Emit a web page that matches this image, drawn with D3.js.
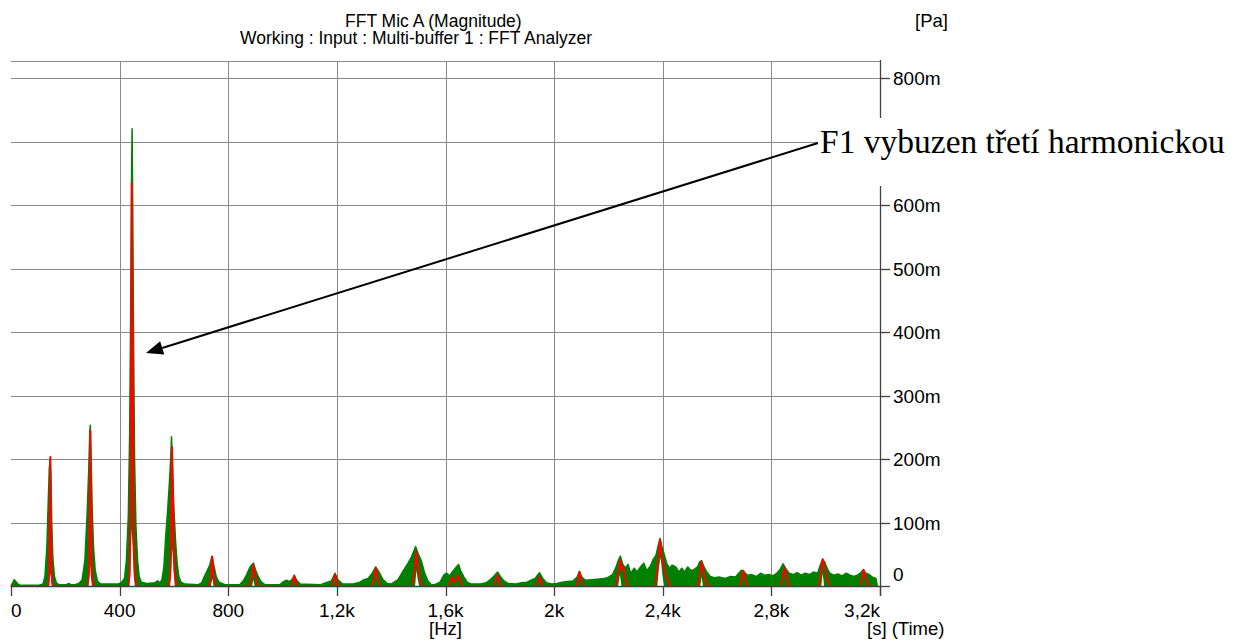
<!DOCTYPE html>
<html>
<head>
<meta charset="utf-8">
<script src="https://cdn.jsdelivr.net/npm/d3@7"></script>
<style>
  body { margin: 0; background: #fff; }
  svg { display: block; }
  text { font-family: "Liberation Sans", Arial, sans-serif; fill: #000; }
</style>
</head>
<body>
<svg id="chart" width="1241" height="641"></svg>
<script>
// frequency axis (Hz)
var xTicks = [0, 400, 800, 1200, 1600, 2000, 2400, 2800, 3200];
var xTickLabels = ["0", "400", "800", "1,2k", "1,6k", "2k", "2,4k", "2,8k", "3,2k"];

// magnitude axis (mPa); the 700m label sits under the annotation box
var yTicks = [0, 100, 200, 300, 400, 500, 600, 700, 800];
var yTickLabels = ["0", "100m", "200m", "300m", "400m", "500m", "600m", "", "800m"];

// upper edge of the green (overlaid traces) band, [Hz, mPa]
var greenTop = [
  [0,0],[5,4],[12,10],[20,6],[28,2],[40,1],[100,1],[118,3],[125,15],[132,60],[137,130],[141,185],
  [144,200],[147,170],[150,100],[154,45],[160,15],[168,4],[178,2],[205,2],[212,4],[220,2],[235,2],
  [250,4],[262,10],[272,40],[280,110],[286,180],[290,240],[292,253],[295,200],[299,120],[304,60],
  [310,25],[318,8],[330,3],[395,3],[408,6],[418,12],[425,40],[432,110],[437,240],[441,450],[444,650],
  [446,720],[448,600],[451,400],[455,200],[460,95],[466,40],[472,15],[480,6],[500,4],[530,5],[540,8],
  [548,5],[556,10],[563,30],[570,80],[577,120],[583,160],[588,200],[591,235],[595,180],[600,120],
  [606,70],[612,35],[618,15],[626,6],[640,3],[690,2],[702,5],[712,15],[722,24],[732,33],[740,47],
  [748,30],[756,14],[766,6],[788,2],[842,2],[855,8],[868,18],[878,28],[886,33],[893,36],[900,26],
  [910,15],[922,6],[935,2],[990,2],[1000,6],[1015,9],[1025,7],[1035,10],[1043,17],[1052,9],[1065,3],
  [1140,2],[1160,5],[1180,8],[1193,20],[1205,9],[1222,3],[1260,3],[1285,6],[1300,10],[1315,12],
  [1330,20],[1343,30],[1355,22],[1370,10],[1385,4],[1400,3],[1425,10],[1445,24],[1462,36],[1475,46],
  [1490,62],[1500,50],[1510,41],[1522,22],[1535,8],[1548,2],[1560,2],[1580,6],[1595,18],[1605,20],
  [1615,16],[1625,22],[1640,30],[1648,34],[1656,24],[1668,14],[1680,6],[1695,3],[1730,3],[1750,5],
  [1765,10],[1780,16],[1792,22],[1802,15],[1815,8],[1830,4],[1860,3],[1880,5],[1900,6],[1915,9],
  [1930,12],[1946,21],[1958,12],[1972,5],[1990,3],[2010,4],[2030,6],[2050,7],[2070,8],[2085,14],
  [2093,23],[2102,14],[2115,9],[2140,10],[2165,11],[2185,12],[2200,14],[2215,18],[2228,30],[2238,42],
  [2244,47],[2252,35],[2262,28],[2272,34],[2282,20],[2295,28],[2305,22],[2318,30],[2330,36],[2342,24],
  [2355,32],[2365,42],[2375,48],[2384,65],[2390,75],[2397,62],[2405,50],[2415,35],[2425,28],[2435,33],
  [2448,30],[2460,22],[2470,28],[2480,22],[2492,30],[2505,24],[2515,26],[2528,30],[2536,38],[2543,40],
  [2552,30],[2562,22],[2575,15],[2590,13],[2610,14],[2630,12],[2650,15],[2668,14],[2680,20],[2690,25],
  [2700,22],[2712,17],[2728,18],[2745,15],[2760,20],[2775,17],[2790,18],[2805,16],[2820,20],[2832,26],
  [2843,35],[2852,28],[2865,20],[2880,18],[2895,21],[2910,17],[2925,20],[2940,18],[2955,22],[2970,20],
  [2982,35],[2989,42],[2996,38],[3005,28],[3015,20],[3030,17],[3045,19],[3060,16],[3075,20],[3090,17],
  [3105,15],[3120,18],[3132,22],[3139,26],[3148,20],[3160,18],[3172,14],[3185,12],[3190,0]
];

// lower edge of the green band (white gap under the peaks), [Hz, mPa]
var greenLow = [
  [0,0],[138,0],[142,8],[145,20],[148,8],[152,0],[284,0],[288,15],[291,35],[294,15],[298,0],
  [436,0],[440,40],[444,91],[448,60],[452,15],[456,0],[586,0],[590,25],[594,60],[598,30],[603,0],
  [736,0],[741,12],[746,0],[888,0],[892,10],[897,0],[1488,0],[1493,25],[1498,10],[1503,0],
  [2236,0],[2242,18],[2248,0],[2380,0],[2386,30],[2392,45],[2398,20],[2404,0],[2538,0],[2543,14],
  [2548,0],[2984,0],[2989,20],[2994,0],[3190,0]
];

// single highlighted trace, [Hz, mPa]
var redTrace = [
  [0,0],[130,0],[138,2],[141,30],[143,120],[145,203],[147,110],[149,30],[152,3],[158,0],
  [282,0],[287,20],[290,130],[292,245],[294,150],[297,40],[300,10],[304,0],
  [432,0],[437,20],[440,120],[443,400],[445,635],[447,450],[450,180],[453,60],[457,15],[462,2],[466,0],
  [580,0],[586,15],[590,90],[593,219],[596,150],[599,70],[603,20],[608,3],[612,0],
  [728,0],[735,8],[741,46],[746,20],[752,3],[757,0],
  [878,0],[885,10],[892,33],[897,22],[905,5],[910,0],
  [1032,0],[1038,6],[1043,16],[1049,6],[1055,0],
  [1183,0],[1188,8],[1193,18],[1199,7],[1206,0],
  [1330,0],[1337,12],[1343,28],[1350,14],[1358,0],
  [1478,0],[1486,25],[1492,54],[1498,35],[1505,12],[1512,0],
  [1610,0],[1618,8],[1625,14],[1632,6],[1640,10],[1647,17],[1654,8],[1662,0],
  [1778,0],[1786,10],[1791,17],[1797,8],[1805,0],
  [1934,0],[1941,8],[1946,14],[1952,6],[1960,0],
  [2082,0],[2088,10],[2093,22],[2099,10],[2106,0],
  [2228,0],[2236,20],[2243,41],[2250,25],[2256,30],[2262,12],[2270,0],
  [2372,0],[2380,25],[2386,55],[2390,73],[2395,50],[2400,40],[2406,28],[2412,15],[2420,8],[2428,0],
  [2530,0],[2537,20],[2543,38],[2550,22],[2558,8],[2566,0],
  [2685,0],[2691,14],[2697,24],[2703,12],[2710,0],
  [2836,0],[2843,18],[2850,28],[2856,14],[2864,0],
  [2975,0],[2983,25],[2989,42],[2995,30],[3002,18],[3010,5],[3016,0],
  [3128,0],[3134,15],[3139,25],[3145,18],[3152,6],[3160,0],[3190,0]
];

var svg = d3.select("#chart");

var plotLeft = 11, plotRight = 880, plotTop = 61, plotBottom = 586;

var x = d3.scaleLinear().domain([0, 3200]).range([plotLeft, plotRight]);
var y = d3.scaleLinear().domain([0, 800]).range([plotBottom, 78]);

// grid
var grid = svg.append("g").attr("stroke", "#8a8a8a").attr("stroke-width", 1);

grid.selectAll("line.v")
    .data(xTicks.slice(1, -1))
  .enter().append("line")
    .attr("x1", function(d) { return Math.round(x(d)) + 0.5; })
    .attr("x2", function(d) { return Math.round(x(d)) + 0.5; })
    .attr("y1", plotTop)
    .attr("y2", plotBottom);

grid.selectAll("line.h")
    .data(yTicks.slice(1))
  .enter().append("line")
    .attr("x1", plotLeft)
    .attr("x2", plotRight)
    .attr("y1", function(d) { return Math.round(y(d)) + 0.5; })
    .attr("y2", function(d) { return Math.round(y(d)) + 0.5; });

grid.append("line")
    .attr("x1", plotLeft).attr("x2", plotRight)
    .attr("y1", plotTop + 0.5).attr("y2", plotTop + 0.5);

// spectrum
var area = d3.area()
    .x(function(d) { return x(d[0]); })
    .y0(y(0))
    .y1(function(d) { return y(d[1]); });

var line = d3.line()
    .x(function(d) { return x(d[0]); })
    .y(function(d) { return y(d[1]); });

svg.append("path")
    .datum(greenTop)
    .attr("d", area)
    .attr("fill", "#008000")
    .attr("stroke", "#008000")
    .attr("stroke-width", 1.5)
    .attr("stroke-linejoin", "round");

svg.append("path")
    .datum(greenLow)
    .attr("d", area)
    .attr("fill", "#fff");

svg.append("path")
    .datum(redTrace)
    .attr("d", line)
    .attr("fill", "none")
    .attr("stroke", "#ff0000")
    .attr("stroke-width", 2)
    .attr("stroke-linejoin", "round");

// axes
var axis = svg.append("g").attr("stroke", "#404040").attr("stroke-width", 1.3);

axis.append("line")
    .attr("x1", plotLeft).attr("x2", plotRight)
    .attr("y1", plotBottom + 0.5).attr("y2", plotBottom + 0.5);

axis.append("line")
    .attr("x1", plotRight + 0.5).attr("x2", plotRight + 0.5)
    .attr("y1", 60).attr("y2", plotBottom + 10);

axis.selectAll("line.xt")
    .data(xTicks)
  .enter().append("line")
    .attr("x1", function(d) { return Math.round(x(d)) + 0.5; })
    .attr("x2", function(d) { return Math.round(x(d)) + 0.5; })
    .attr("y1", plotBottom)
    .attr("y2", plotBottom + 10);

axis.selectAll("line.yt")
    .data(yTicks)
  .enter().append("line")
    .attr("x1", plotRight)
    .attr("x2", plotRight + 10)
    .attr("y1", function(d) { return Math.round(y(d)) + 0.5; })
    .attr("y2", function(d) { return Math.round(y(d)) + 0.5; });

svg.selectAll("text.xl")
    .data(xTicks)
  .enter().append("text")
    .attr("x", function(d) { return x(d); })
    .attr("y", 617)
    .attr("font-size", 19)
    .attr("text-anchor", function(d, i) {
      return i === 0 ? "start" : i === xTicks.length - 1 ? "end" : "middle";
    })
    .text(function(d, i) { return xTickLabels[i]; });

svg.selectAll("text.yl")
    .data(yTicks.filter(function(d, i) { return yTickLabels[i]; }))
  .enter().append("text")
    .attr("x", 893)
    .attr("y", function(d) { return d === 0 ? 581 : y(d) + 7; })
    .attr("font-size", 19)
    .text(function(d) { return yTickLabels[yTicks.indexOf(d)]; });

// titles and units
svg.append("text").attr("x", 345).attr("y", 27).attr("font-size", 17.5)
    .text("FFT Mic A (Magnitude)");
svg.append("text").attr("x", 240).attr("y", 44).attr("font-size", 17.5)
    .text("Working : Input : Multi-buffer 1 : FFT Analyzer");
svg.append("text").attr("x", 915).attr("y", 27).attr("font-size", 18.5)
    .text("[Pa]");
svg.append("text").attr("x", 429).attr("y", 635).attr("font-size", 18.5)
    .text("[Hz]");
svg.append("text").attr("x", 867).attr("y", 635).attr("font-size", 18.5)
    .text("[s] (Time)");

// annotation arrow pointing at the 450 Hz peak
var tip = [146, 353], tail = [818, 143];
var ang = Math.atan2(tail[1] - tip[1], tail[0] - tip[0]);
var headLen = 17, headHalf = 7;
var bx = tip[0] + headLen * Math.cos(ang), by = tip[1] + headLen * Math.sin(ang);

svg.append("line")
    .attr("x1", bx).attr("y1", by)
    .attr("x2", tail[0]).attr("y2", tail[1])
    .attr("stroke", "#000")
    .attr("stroke-width", 2);

svg.append("polygon")
    .attr("points", [
      tip,
      [bx - headHalf * Math.sin(ang), by + headHalf * Math.cos(ang)],
      [bx + headHalf * Math.sin(ang), by - headHalf * Math.cos(ang)]
    ].map(function(p) { return p.join(","); }).join(" "))
    .attr("fill", "#000");

svg.append("rect")
    .attr("x", tail[0]).attr("y", 118)
    .attr("width", 1241 - tail[0]).attr("height", 68)
    .attr("fill", "#fff");

svg.append("text")
    .attr("x", tail[0] + 2)
    .attr("y", 153)
    .style("font-family", "'Liberation Serif', 'Times New Roman', serif")
    .attr("font-size", 33.5)
    .text("F1 vybuzen třetí harmonickou");
</script>
</body>
</html>
